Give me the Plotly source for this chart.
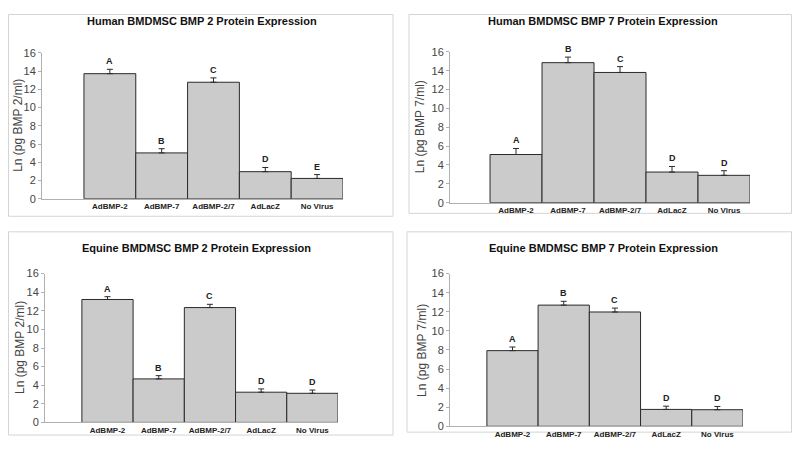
import plotly.graph_objects as go

categories = ["AdBMP-2", "AdBMP-7", "AdBMP-2/7", "AdLacZ", "No Virus"]

titles = [
    "Human BMDMSC BMP 2 Protein Expression",
    "Human BMDMSC BMP 7 Protein Expression",
    "Equine BMDMSC BMP 2 Protein Expression",
    "Equine BMDMSC BMP 7 Protein Expression",
]
ytitles = ["Ln (pg BMP 2/ml)", "Ln (pg BMP 7/ml)", "Ln (pg BMP 2/ml)", "Ln (pg BMP 7/ml)"]

human_bmp2 = [13.72, 5.03, 12.78, 2.97, 2.23]
human_bmp2_err = [0.48, 0.46, 0.48, 0.46, 0.42]
human_bmp2_letters = ["A", "B", "C", "D", "E"]

human_bmp7 = [5.11, 14.86, 13.82, 3.25, 2.90]
human_bmp7_err = [0.64, 0.59, 0.62, 0.59, 0.49]
human_bmp7_letters = ["A", "B", "C", "D", "D"]

equine_bmp2 = [13.22, 4.68, 12.35, 3.25, 3.13]
equine_bmp2_err = [0.30, 0.35, 0.35, 0.35, 0.35]
equine_bmp2_letters = ["A", "B", "C", "D", "D"]

equine_bmp7 = [7.93, 12.70, 11.98, 1.77, 1.74]
equine_bmp7_err = [0.38, 0.40, 0.41, 0.34, 0.34]
equine_bmp7_letters = ["A", "B", "C", "D", "D"]

yticks = [0, 2, 4, 6, 8, 10, 12, 14, 16]

# page is 800x451 with an 8px body margin; the figure fills the rest
OX, OY = 8, 8
W, H = 800 - 2 * OX, 451 - 2 * OY
FONT = "Liberation Sans, Arial, sans-serif"


def px(x):
    return min(max(x - OX, 0.5), W - 0.5) / W


def py(y):
    return 1 - min(max(y - OY, 0.5), H - 0.5) / H


series = [
    (human_bmp2, human_bmp2_err, human_bmp2_letters),
    (human_bmp7, human_bmp7_err, human_bmp7_letters),
    (equine_bmp2, equine_bmp2_err, equine_bmp2_letters),
    (equine_bmp7, equine_bmp7_err, equine_bmp7_letters),
]

# geometry in page pixels: (axis_x0, axis_x1, y_zero_px, y_top_px, left_gap_in_bars)
geom = [
    (42, 343, 198, 48, 0.81),
    (450, 750, 202, 47, 0.77),
    (45, 338, 428, 275, 0.72),
    (450, 743, 432, 275, 0.72),
]
title_pos = [(202, 15), (603, 15), (196, 249), (603, 249)]
ytitle_x = [18, 420, 20, 422]
boxes = [(4, 3, 393, 216), (409, 3, 794, 213), (4, 232, 393, 441), (407, 232, 793, 438)]

fig = go.Figure()
layout = dict(
    width=W, height=H, margin=dict(l=0, r=0, t=0, b=0),
    paper_bgcolor="white", plot_bgcolor="white", showlegend=False,
    annotations=[], shapes=[],
)

xs = list(range(len(categories)))
for i, ((vals, errs, letters), (ax0, ax1, y0, y1, gap)) in enumerate(zip(series, geom)):
    xa = "x" if i == 0 else f"x{i+1}"
    ya = "y" if i == 0 else f"y{i+1}"
    fig.add_trace(go.Bar(
        x=xs, y=vals, xaxis=xa, yaxis=ya, width=1.0,
        marker=dict(color="#cbcbcb", line=dict(color="#2a2a2a", width=1)),
        error_y=dict(type="data", symmetric=False, array=errs,
                     arrayminus=[0] * len(errs), color="#2a2a2a",
                     thickness=1, width=3),
        hoverinfo="skip",
    ))
    xkey = "xaxis" if i == 0 else f"xaxis{i+1}"
    ykey = "yaxis" if i == 0 else f"yaxis{i+1}"
    layout[xkey] = dict(
        domain=[px(ax0), px(ax1)], anchor=ya,
        range=[-0.5 - gap, len(categories) - 0.5],
        tickmode="array", tickvals=xs,
        ticktext=[f"<b>{c}</b>" for c in categories],
        ticks="", showline=True, linecolor="#b0b0b0", linewidth=1,
        showgrid=False, zeroline=False,
        tickfont=dict(family=FONT, size=8, color="#222222"),
        fixedrange=True,
    )
    layout[ykey] = dict(
        domain=[py(y0), py(y1)], anchor=xa,
        range=[0, 16], tickmode="array", tickvals=yticks,
        ticks="outside", ticklen=3, tickcolor="#b0b0b0",
        showline=True, linecolor="#b0b0b0", linewidth=1,
        showgrid=False, zeroline=False,
        tickfont=dict(family=FONT, size=11, color="#444444"),
        fixedrange=True,
    )
    for x, v, e, l in zip(xs, vals, errs, letters):
        layout["annotations"].append(dict(
            x=x, y=v + e, xref=xa, yref=ya, text=f"<b>{l}</b>",
            showarrow=False, yanchor="bottom", yshift=1,
            font=dict(family=FONT, size=9, color="#222222"),
        ))
    tx, ty = title_pos[i]
    layout["annotations"].append(dict(
        x=px(tx), y=py(ty), xref="paper", yref="paper",
        text=f"<b>{titles[i]}</b>", showarrow=False,
        xanchor="center", yanchor="middle",
        font=dict(family=FONT, size=11, color="#111111"),
    ))
    layout["annotations"].append(dict(
        x=px(ytitle_x[i]), y=py((y0 + y1) / 2), xref="paper", yref="paper",
        text=ytitles[i], showarrow=False, textangle=-90,
        xanchor="center", yanchor="middle",
        font=dict(family=FONT, size=12, color="#444444"),
    ))
    bx0, by0, bx1, by1 = boxes[i]
    layout["shapes"].append(dict(
        type="rect", xref="paper", yref="paper",
        x0=px(bx0), x1=px(bx1), y0=py(by1), y1=py(by0),
        line=dict(color="#d4d4d4", width=1), fillcolor="rgba(0,0,0,0)",
        layer="below",
    ))

fig.update_layout(**layout)
fig.write_html("out.html")
